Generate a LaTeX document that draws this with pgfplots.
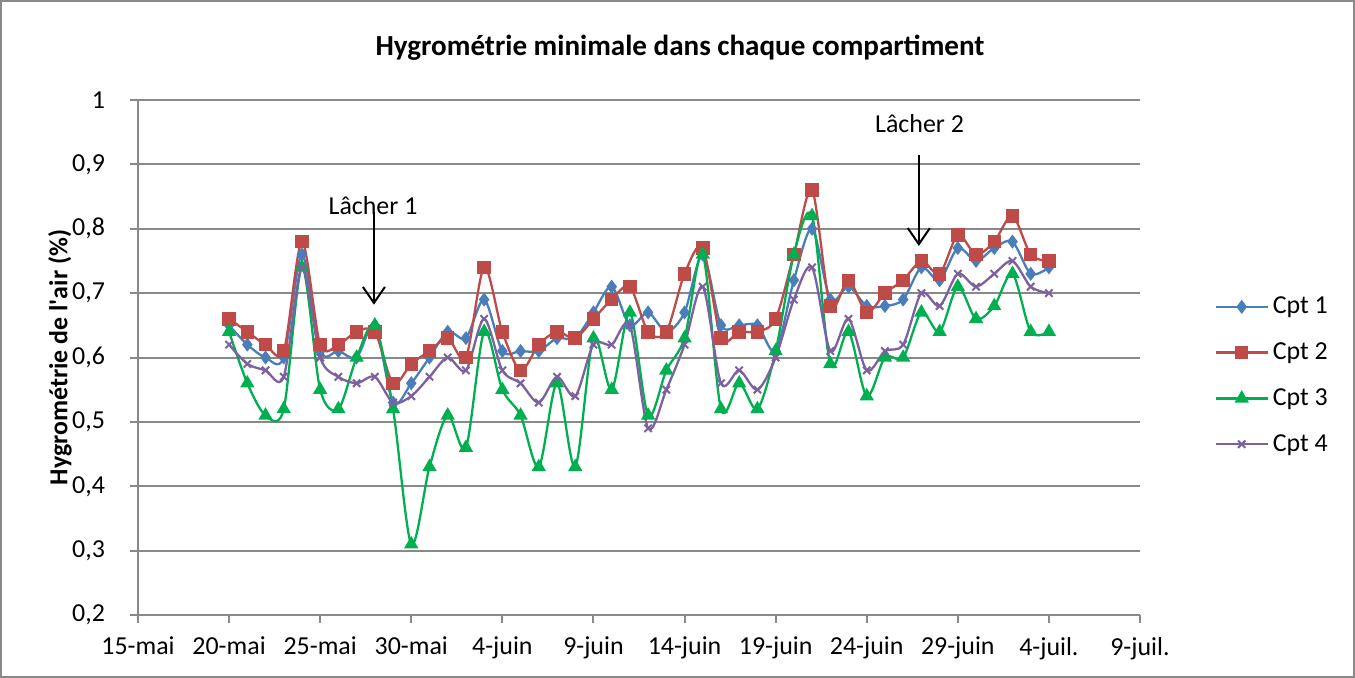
\documentclass[border=0pt]{standalone}
\usepackage{fontspec}
\setmainfont{Carlito}
\newfontfamily\plainfont{Carlito}
\usepackage{pgfplots}
\usepackage{pgfplotstable}
\pgfplotsset{compat=1.18}
\usetikzlibrary{arrows.meta}

\definecolor{cblue}{HTML}{4A7EBB}
\definecolor{cred}{HTML}{BE4B48}
\definecolor{cgreen}{HTML}{00B050}
\definecolor{cpurple}{HTML}{7D60A0}
\definecolor{axgray}{HTML}{898989}

% day counted from 15-mai
\pgfplotstableread{
day c1 c2 c3 c4
5 0.65 0.66 0.64 0.62
6 0.62 0.64 0.56 0.59
7 0.60 0.62 0.51 0.58
8 0.60 0.61 0.52 0.57
9 0.76 0.78 0.74 0.74
10 0.61 0.62 0.55 0.60
11 0.61 0.62 0.52 0.57
12 0.60 0.64 0.60 0.56
13 0.65 0.64 0.65 0.57
14 0.53 0.56 0.52 0.53
15 0.56 0.59 0.31 0.54
16 0.60 0.61 0.43 0.57
17 0.64 0.63 0.51 0.60
18 0.63 0.60 0.46 0.58
19 0.69 0.74 0.64 0.66
20 0.61 0.64 0.55 0.58
21 0.61 0.58 0.51 0.56
22 0.61 0.62 0.43 0.53
23 0.63 0.64 0.56 0.57
24 0.63 0.63 0.43 0.54
25 0.67 0.66 0.63 0.62
26 0.71 0.69 0.55 0.62
27 0.65 0.71 0.67 0.65
28 0.67 0.64 0.51 0.49
29 0.64 0.64 0.58 0.55
30 0.67 0.73 0.63 0.62
31 0.76 0.77 0.76 0.71
32 0.65 0.63 0.52 0.56
33 0.65 0.64 0.56 0.58
34 0.65 0.64 0.52 0.55
35 0.61 0.66 0.61 0.60
36 0.72 0.76 0.76 0.69
37 0.80 0.86 0.82 0.74
38 0.69 0.68 0.59 0.61
39 0.71 0.72 0.64 0.66
40 0.68 0.67 0.54 0.58
41 0.68 0.70 0.60 0.61
42 0.69 0.72 0.60 0.62
43 0.74 0.75 0.67 0.70
44 0.72 0.73 0.64 0.68
45 0.77 0.79 0.71 0.73
46 0.75 0.76 0.66 0.71
47 0.77 0.78 0.68 0.73
48 0.78 0.82 0.73 0.75
49 0.73 0.76 0.64 0.71
50 0.74 0.75 0.64 0.70
}\hygro

\begin{document}
\begin{tikzpicture}
\draw[axgray, line width=1bp] (0.5bp,0.5bp) rectangle (677bp,338.5bp);
\node[font=\fontsize{14.6}{16}\selectfont\bfseries] at (340bp,315bp) {Hygrométrie minimale dans chaque compartiment};
\begin{axis}[
    at={(69bp,31.5bp)}, anchor=south west,
    scale only axis,
    width=501bp, height=257.5bp,
    xmin=0, xmax=55,
    ymin=0.2, ymax=1,
    axis lines=left,
    axis line style={axgray, line width=1bp, -},
    xtick={0,5,...,55},
    xticklabels={15-mai,20-mai,25-mai,30-mai,4-juin,9-juin,14-juin,19-juin,24-juin,29-juin,4-juil.,9-juil.},
    ytick={0.2,0.3,...,1.0},
    tick align=outside,
    major tick length=4bp,
    tick style={axgray, line width=1bp},
    ymajorgrids,
    grid style={axgray, line width=1bp},
    tick label style={font=\fontsize{13}{15}\selectfont},
    yticklabel style={/pgf/number format/.cd, fixed, precision=1, use comma, assume math mode=true, /tikz/.cd, xshift=-9bp},
    xticklabel style={yshift=-3.5bp},
    ylabel={Hygrométrie de l{\plainfont '}air (\%)},
    ylabel style={font=\fontsize{13}{15}\selectfont\bfseries, at={(axis description cs:-0.078,0.5)}, anchor=center},
    legend style={draw=none, fill=none, at={(axis description cs:1.074,0.465)}, anchor=west,
        font=\fontsize{13}{15}\selectfont, row sep=9bp, inner sep=0pt},
    legend cell align=left,
    legend image code/.code={\draw[mark repeat=2,mark phase=2] plot coordinates {(0bp,0bp) (13bp,0bp) (26bp,0bp)};},
    every axis plot/.append style={line width=1.15bp, smooth, tension=0.5},
    clip=false,
]
\addplot[cblue, mark=diamond*, mark size=2.6bp] table[x=day, y=c1] {\hygro};
\addlegendentry{Cpt 1}
\addplot[cred, mark=square*, mark size=2.8bp] table[x=day, y=c2] {\hygro};
\addlegendentry{Cpt 2}
\addplot[cgreen, mark=triangle*, mark size=3bp] table[x=day, y=c3] {\hygro};
\addlegendentry{Cpt 3}
\addplot[cpurple, mark=x, mark size=2.6bp, mark options={line width=1bp}] table[x=day, y=c4] {\hygro};
\addlegendentry{Cpt 4}

\node[font=\fontsize{13}{15}\selectfont, anchor=base] at (axis cs:12.9,0.8214) {Lâcher 1};
\draw[line width=1bp, -{Straight Barb[length=8bp, width=11bp, line width=1bp]}] (axis cs:12.95,0.826) -- (axis cs:12.95,0.682);
\node[font=\fontsize{13}{15}\selectfont, anchor=base] at (axis cs:42.9,0.9488) {Lâcher 2};
\draw[line width=1bp, -{Straight Barb[length=8bp, width=11bp, line width=1bp]}] (axis cs:42.86,0.9146) -- (axis cs:42.86,0.7733);
\end{axis}
\end{tikzpicture}
\end{document}
